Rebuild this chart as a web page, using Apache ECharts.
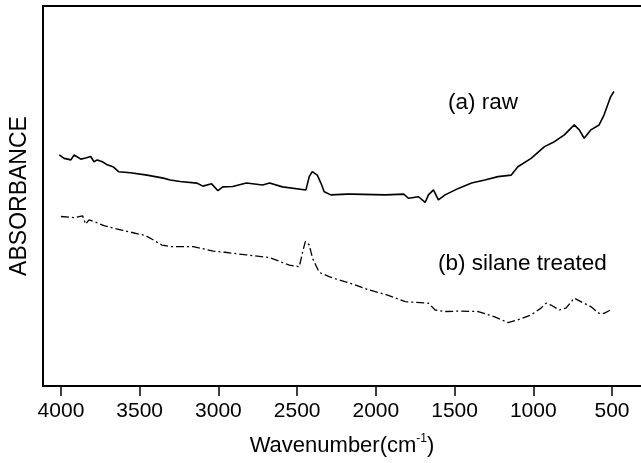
<!DOCTYPE html>
<html>
<head>
<meta charset="utf-8">
<script src="https://cdn.jsdelivr.net/npm/echarts@6/dist/echarts.min.js"></script>
<style>html,body{margin:0;padding:0;background:#fff}#c{width:641px;height:463px}</style>
</head>
<body>
<div id="c"></div>
<script>
// Wavenumber (cm-1) and absorbance (arbitrary units, 0-100)
var rawWavenumber = [4011,3980,3937,3916,3874,3843,3811,3790,3769,3737,3706,3666,3634,3559,3453,3350,3306,3243,3138,3098,3043,3003,2972,2909,2822,2719,2675,2593,2444,2423,2404,2372,2349,2328,2286,2183,2152,1939,1823,1792,1729,1687,1666,1634,1603,1560,1476,1392,1308,1224,1140,1098,1014,929,866,803,740,708,677,635,582,551,509,488];
var rawAbsorbance = [60.8,59.9,59.5,60.8,59.7,60.0,60.4,59.0,59.5,59.0,58.2,57.6,56.4,56.1,55.5,54.7,54.2,53.8,53.4,52.6,53.2,51.4,52.4,52.5,53.4,52.9,53.4,52.4,51.6,55.1,56.4,55.5,53.4,51.1,50.3,50.5,50.5,50.3,50.5,49.4,49.8,48.3,50.3,51.6,49.0,50.3,52.0,53.4,54.2,55.1,55.5,57.7,59.9,63.0,64.3,66.1,68.7,67.4,65.2,67.4,68.7,71.3,76.1,77.5];

var silaneWavenumber = [4000,3916,3863,3843,3822,3780,3727,3664,3622,3559,3464,3412,3359,3306,3159,3033,2959,2822,2675,2549,2486,2465,2448,2423,2402,2360,2297,2234,2181,2044,1939,1813,1666,1623,1560,1476,1350,1245,1161,1098,1014,951,919,888,835,793,740,698,635,582,551,509];
var silaneAbsorbance = [44.6,44.3,44.8,42.6,43.7,43.1,42.2,41.5,41.1,40.5,39.6,38.4,37.1,36.7,36.7,35.5,35.2,34.5,33.8,31.8,31.4,35.3,38.0,37.1,33.6,29.9,28.8,27.9,27.3,25.3,24.1,22.2,21.8,20.0,19.6,19.7,19.6,18.2,16.7,17.4,18.7,20.5,21.8,21.3,20.0,20.5,23.1,22.2,20.9,19.1,19.1,20.0];

var tickValues = [4000,3500,3000,2500,2000,1500,1000,500];
var seriesLabels = ['(a) raw', '(b) silane treated'];

function pairs(xs, ys){ return xs.map(function(x,i){ return [x, ys[i]]; }); }

var chart = echarts.init(document.getElementById('c'), null, {renderer:'canvas'});
var font = 'Liberation Sans, Arial, sans-serif';
chart.setOption({
  animation: false,
  backgroundColor: '#fff',
  grid: {left: 42, right: -3, top: 6, bottom: 77, containLabel: false},
  xAxis: [{
    type: 'value', inverse: true, min: 316, max: 4114, position: 'bottom',
    splitLine: {show: false},
    axisLine: {show: true, lineStyle: {color: '#000', width: 2}},
    axisTick: {show: true, length: 10, lineStyle: {color: '#000', width: 1.5}, customValues: tickValues},
    axisLabel: {show: true, margin: 15, color: '#000', fontSize: 21, fontFamily: font, customValues: tickValues,
      formatter: function(v){ return String(v); }},
    name: '{a|Wavenumber(cm}{s|-1}{a|)}',
    nameLocation: 'middle', nameGap: 47,
    nameTextStyle: {rich: {
      a: {fontSize: 22, fontFamily: font, color: '#000', verticalAlign: 'bottom', lineHeight: 24},
      s: {fontSize: 12, fontFamily: font, color: '#000', verticalAlign: 'top', lineHeight: 24, padding: [0,0,10,0]}
    }}
  },{
    type: 'value', inverse: true, min: 316, max: 4114, position: 'top',
    splitLine: {show: false},
    axisLine: {show: true, lineStyle: {color: '#000', width: 2}},
    axisTick: {show: false}, axisLabel: {show: false}
  }],
  yAxis: {
    type: 'value', min: 0, max: 100,
    splitLine: {show: false},
    axisLine: {show: true, lineStyle: {color: '#000', width: 2}},
    axisTick: {show: false}, axisLabel: {show: false},
    name: 'ABSORBANCE', nameLocation: 'middle', nameRotate: 90, nameGap: 12,
    nameTextStyle: {fontSize: 23, fontFamily: font, color: '#000'}
  },
  series: [{
    name: seriesLabels[0], type: 'line', showSymbol: false, symbol: 'none',
    data: pairs(rawWavenumber, rawAbsorbance),
    lineStyle: {color: '#000', width: 1.6}
  },{
    name: seriesLabels[1], type: 'line', showSymbol: false, symbol: 'none',
    data: pairs(silaneWavenumber, silaneAbsorbance),
    lineStyle: {color: '#000', width: 1.3, type: [8,3,2,3]}
  }],
  graphic: [
    {type: 'text', left: 448, top: 91, style: {text: seriesLabels[0], fontSize: 22.5, fontFamily: font, fill: '#000'}},
    {type: 'text', left: 438, top: 252, style: {text: seriesLabels[1], fontSize: 22.5, fontFamily: font, fill: '#000'}}
  ]
});
</script>
</body>
</html>
